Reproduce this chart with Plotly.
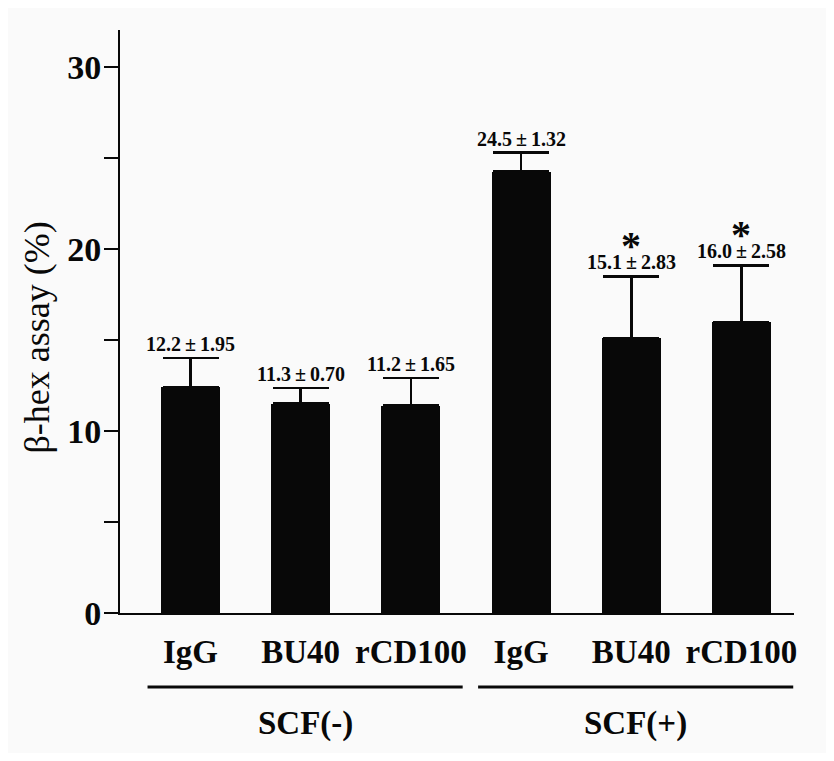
import plotly.graph_objects as go

# ---- data ----
categories = ["IgG", "BU40", "rCD100", "IgG", "BU40", "rCD100"]
groups = ["SCF(-)", "SCF(-)", "SCF(-)", "SCF(+)", "SCF(+)", "SCF(+)"]
group_names = ["SCF(-)", "SCF(+)"]
means = [12.4, 11.5, 11.4, 24.25, 15.1, 16.0]
errors = [1.6, 0.85, 1.5, 1.05, 3.4, 3.1]
value_labels = ["12.2\u2009\u00b1\u20091.95", "11.3\u2009\u00b1\u20090.70", "11.2\u2009\u00b1\u20091.65",
                "24.5\u2009\u00b1\u20091.32", "15.1\u2009\u00b1\u20092.83", "16.0\u2009\u00b1\u20092.58"]
significant = [False, False, False, False, True, True]
y_tickvals = [0, 5, 10, 15, 20, 25, 30]
y_ticktext = ["0", "", "10", "", "20", "", "30"]
y_title = "\u03b2-hex assay (%)"

FONT = "Liberation Serif"
BG = "#fafafa"
INK = "#080808"

xpos = list(range(len(categories)))
XMIN, XMAX = -0.64, 5.477
YMAX = 32.03

def xpaper(v):
    return (v - XMIN) / (XMAX - XMIN)

fig = go.Figure()
fig.add_trace(go.Bar(
    x=xpos, y=means, width=0.535,
    marker=dict(color=INK, line=dict(width=0)),
    error_y=dict(type="data", symmetric=False, array=errors,
                 arrayminus=[0] * len(errors), color=INK,
                 thickness=2.5, width=28),
    hoverinfo="skip",
))

annotations = []
for i, (m, e, lab, sig) in enumerate(zip(means, errors, value_labels, significant)):
    annotations.append(dict(x=i, y=m + e, xref="x", yref="y", text=lab,
                            showarrow=False, yanchor="middle", yshift=14,
                            font=dict(family=FONT, size=20, color=INK,
                                      weight="bold")))
    if sig:
        annotations.append(dict(x=i, y=m + e, xref="x", yref="y", text="*",
                                showarrow=False, yanchor="middle", yshift=31,
                                font=dict(family=FONT, size=40, color=INK,
                                          weight="bold")))

# group underline + group labels
shapes = []
for g in group_names:
    idx = [i for i, gg in enumerate(groups) if gg == g]
    lo, hi = min(idx) - 0.39, max(idx) + 0.47
    shapes.append(dict(type="line", xref="paper", yref="paper",
                       x0=xpaper(lo), x1=xpaper(hi), y0=-0.127, y1=-0.127,
                       line=dict(color=INK, width=3)))
    annotations.append(dict(x=xpaper((lo + hi) / 2), y=-0.189, xref="paper",
                            yref="paper", text=g, showarrow=False,
                            xanchor="center", yanchor="middle",
                            font=dict(family=FONT, size=33, color=INK,
                                      weight="bold")))

annotations.append(dict(x=-0.123, y=0.4726, xref="paper", yref="paper",
                        text=y_title, textangle=-90, showarrow=False,
                        xanchor="center", yanchor="middle",
                        font=dict(family=FONT, size=36, color=INK)))

fig.update_layout(
    width=818, height=745,
    margin=dict(l=112, r=32, t=22, b=140),
    paper_bgcolor=BG, plot_bgcolor=BG,
    showlegend=False,
    bargap=0,
    annotations=annotations,
    shapes=shapes,
    xaxis=dict(range=[XMIN, XMAX], tickvals=xpos, ticktext=categories,
               showgrid=False, zeroline=False, showline=True,
               linecolor=INK, linewidth=2, ticks="",
               tickfont=dict(family=FONT, size=33, color=INK, weight="bold"),
               ticklabelstandoff=8),
    yaxis=dict(range=[0, YMAX], tickvals=y_tickvals, ticktext=y_ticktext,
               showgrid=False, zeroline=False, showline=True,
               linecolor=INK, linewidth=2, ticks="outside", ticklen=14,
               tickwidth=2, tickcolor=INK, ticklabelstandoff=-4,
               tickfont=dict(family=FONT, size=34, color=INK, weight="bold")),
)

fig.write_html("out.html")
